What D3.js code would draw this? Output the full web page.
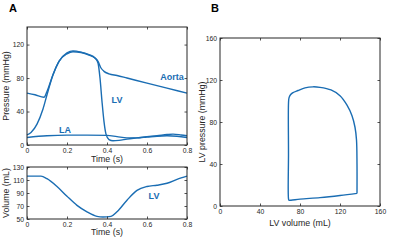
<!DOCTYPE html>
<html>
<head>
<meta charset="utf-8">
<script src="https://cdn.jsdelivr.net/npm/d3@7"></script>
<style>
  body { margin: 0; background: #fff; }
  svg { font-family: "Liberation Sans", Arial, sans-serif; }
  .tick text { fill: #262626; }
</style>
</head>
<body>
<div id="chart"></div>
<script>
// time-series values (t in s)
const aortaT = [0, 0.04, 0.085, 0.1, 0.13, 0.16, 0.2, 0.23, 0.27, 0.31, 0.34, 0.355, 0.37, 0.385, 0.41, 0.45, 0.5, 0.6, 0.7, 0.8];
const aortaP = [62, 60, 57, 64, 84, 100, 109, 111.5, 110.5, 107.5, 104, 100, 92, 88, 85, 83, 80, 74, 68, 62];
const lvT = [0, 0.02, 0.05, 0.08, 0.1, 0.13, 0.16, 0.2, 0.23, 0.27, 0.31, 0.34, 0.355, 0.365, 0.375, 0.385, 0.395, 0.41, 0.43, 0.46, 0.5, 0.55, 0.6, 0.65, 0.7, 0.73, 0.77, 0.8];
const lvP = [12, 15, 25, 43, 60, 84, 100, 110, 112.5, 111, 108, 104, 98, 80, 52, 28, 13, 6.5, 5, 5.5, 7, 8.5, 10, 11, 12.5, 13, 12, 11];
const laT = [0, 0.1, 0.2, 0.3, 0.4, 0.45, 0.5, 0.55, 0.6, 0.65, 0.7, 0.75, 0.8];
const laP = [9, 11, 11.8, 11.8, 11.5, 10, 8.5, 8.5, 9.5, 10.5, 11, 10.5, 9];
const volT = [0, 0.07, 0.1, 0.15, 0.2, 0.25, 0.3, 0.35, 0.38, 0.42, 0.45, 0.5, 0.55, 0.6, 0.65, 0.7, 0.75, 0.8];
const volV = [116, 116, 112, 100, 85, 71, 61, 54, 53, 54, 61, 79, 94, 100, 102, 105, 111, 116];
// PV loop (volume mL, pressure mmHg)
const loopV = [137, 137, 136.5, 135, 132, 127, 120, 111, 100, 93, 85, 78, 73, 70.5, 69, 68.5, 68.5, 68.5, 69, 71, 80, 100, 120, 137];
const loopP = [12, 40, 63, 75, 86, 96, 105, 110.5, 113, 113.5, 112.5, 110, 108, 106, 103, 98, 50, 7, 5.5, 5.5, 6.5, 8, 10, 12];

const timeTicks = [0, 0.2, 0.4, 0.6, 0.8];
const presTicks = [0, 40, 80, 120];
const volTicks = [50, 70, 90, 110, 130];
const loopTicks = [0, 40, 80, 120, 160];
const curveLabels = [
  { text: "Aorta", t: 0.725, p: 81 },
  { text: "LV", t: 0.45, p: 54 },
  { text: "LA", t: 0.19, p: 18 }
];
const volLabel = { text: "LV", t: 0.635, v: 85 };

const blue = "#1a6db3";
const axisCol = "#262626";

const svg = d3.select("#chart").append("svg")
  .attr("width", 400).attr("height", 240);

function drawBox(g, x, y, xTicks, yTicks, xFmt, yFmt) {
  const [x0, x1] = x.range();
  const [y0, y1] = y.range();
  const tl = 2.5;
  g.append("g").attr("transform", `translate(0,${y0})`)
    .call(d3.axisBottom(x).tickValues(xTicks).tickSize(-tl).tickPadding(3).tickFormat(xFmt));
  g.append("g").attr("transform", `translate(0,${y1})`)
    .call(d3.axisTop(x).tickValues(xTicks).tickSize(-tl).tickFormat(""));
  g.append("g").attr("transform", `translate(${x0},0)`)
    .call(d3.axisLeft(y).tickValues(yTicks).tickSize(-tl).tickPadding(3).tickFormat(yFmt));
  g.append("g").attr("transform", `translate(${x1},0)`)
    .call(d3.axisRight(y).tickValues(yTicks).tickSize(-tl).tickFormat(""));
  g.selectAll(".domain").remove();
  g.selectAll(".tick line").attr("stroke", axisCol).attr("stroke-width", 0.8);
  g.selectAll(".tick text").attr("font-size", 6.8);
  g.append("rect").attr("x", x0).attr("y", y1)
    .attr("width", x1 - x0).attr("height", y0 - y1)
    .attr("fill", "none").attr("stroke", axisCol).attr("stroke-width", 1);
}

function yTitle(text, x, y) {
  svg.append("text").attr("transform", `translate(${x},${y}) rotate(-90)`)
    .attr("text-anchor", "middle").attr("font-size", 8.8).attr("fill", axisCol).text(text);
}
function xTitle(text, x, y) {
  svg.append("text").attr("x", x).attr("y", y)
    .attr("text-anchor", "middle").attr("font-size", 8.8).attr("fill", axisCol).text(text);
}

const fmtT = d => d === 0 ? "0" : d3.format(".1f")(d);

// ---- Panel A top: pressures
const xA = d3.scaleLinear().domain([0, 0.8]).range([27, 187]);
const yA = d3.scaleLinear().domain([0, 141]).range([145, 27]);
const gA = svg.append("g");

const lineA = d3.line().x(d => xA(d[0])).y(d => yA(d[1])).curve(d3.curveMonotoneX);
[[aortaT, aortaP], [laT, laP], [lvT, lvP]].forEach(([ts, ps]) => {
  gA.append("path").datum(ts.map((t, i) => [t, ps[i]]))
    .attr("d", lineA).attr("fill", "none").attr("stroke", blue).attr("stroke-width", 1.4);
});
drawBox(gA, xA, yA, timeTicks, presTicks, fmtT, d3.format("d"));
gA.selectAll(".lbl").data(curveLabels).enter().append("text")
  .attr("x", d => xA(d.t)).attr("y", d => yA(d.p))
  .attr("text-anchor", "middle").attr("dy", "0.35em")
  .attr("font-size", 9).attr("font-weight", "bold").attr("fill", blue).text(d => d.text);
yTitle("Pressure (mmHg)", 9, 86);
xTitle("Time (s)", 107, 162);

// ---- Panel A bottom: volume
const yV = d3.scaleLinear().domain([50, 130]).range([219, 167]);
const gV = svg.append("g");
const lineV = d3.line().x(d => xA(d[0])).y(d => yV(d[1])).curve(d3.curveMonotoneX);
gV.append("path").datum(volT.map((t, i) => [t, volV[i]]))
  .attr("d", lineV).attr("fill", "none").attr("stroke", blue).attr("stroke-width", 1.4);
drawBox(gV, xA, yV, timeTicks, volTicks, fmtT, d3.format("d"));
gV.append("text").attr("x", xA(volLabel.t)).attr("y", yV(volLabel.v))
  .attr("text-anchor", "middle").attr("dy", "0.35em")
  .attr("font-size", 9).attr("font-weight", "bold").attr("fill", blue).text(volLabel.text);
yTitle("Volume (mL)", 9, 193);
xTitle("Time (s)", 107, 235);

// ---- Panel B: PV loop
const xB = d3.scaleLinear().domain([0, 160]).range([220, 380]);
const yB = d3.scaleLinear().domain([0, 160]).range([206, 38]);
const gB = svg.append("g");
const lineB = d3.line().x(d => xB(d[0])).y(d => yB(d[1])).curve(d3.curveCatmullRom.alpha(0.5));
gB.append("path").datum(loopV.map((v, i) => [v, loopP[i]]))
  .attr("d", lineB).attr("fill", "none").attr("stroke", blue).attr("stroke-width", 1.4);
drawBox(gB, xB, yB, loopTicks, loopTicks, d3.format("d"), d3.format("d"));
yTitle("LV pressure (mmHg)", 205, 122);
xTitle("LV volume (mL)", 300, 226);

// panel letters
svg.append("text").attr("x", 9).attr("y", 12).attr("font-size", 11)
  .attr("font-weight", "bold").text("A");
svg.append("text").attr("x", 211).attr("y", 12).attr("font-size", 11)
  .attr("font-weight", "bold").text("B");
</script>
</body>
</html>
